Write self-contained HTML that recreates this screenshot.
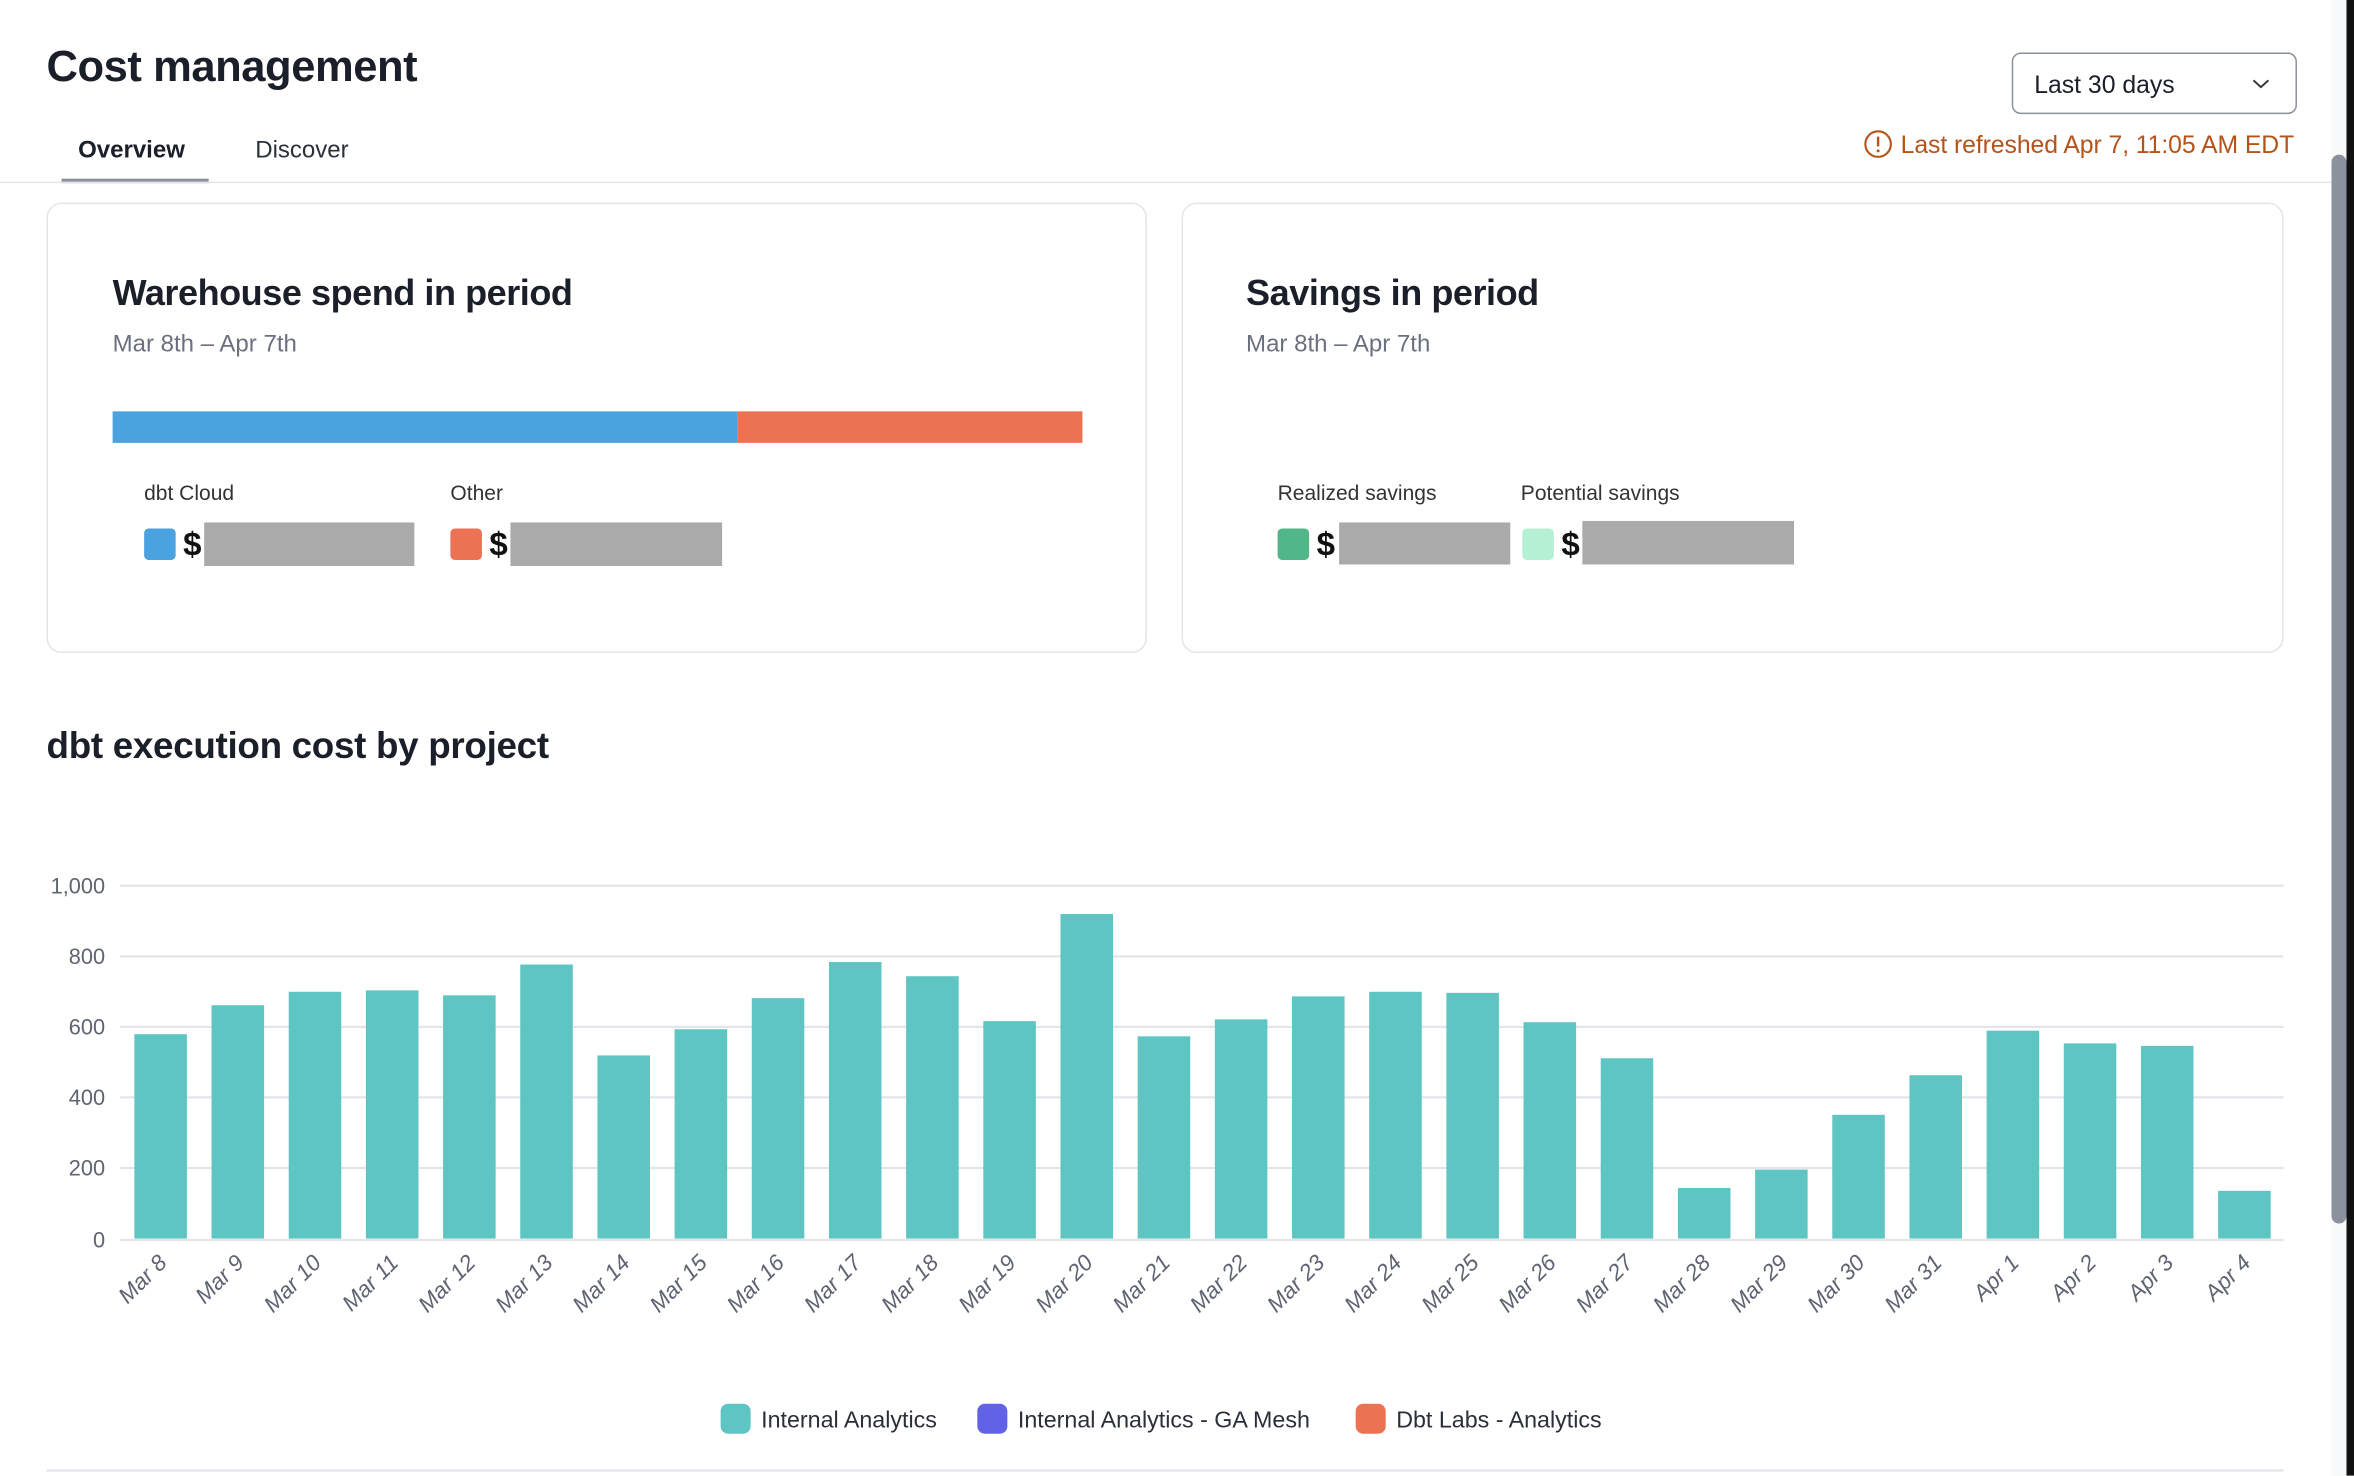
<!DOCTYPE html>
<html><head><meta charset="utf-8"><style>
html,body{margin:0;padding:0;background:#fff;width:2354px;height:1476px;overflow:hidden}
#w{position:absolute;left:0;top:0;width:1568px;height:983px;transform:scale(1.50128);transform-origin:0 0;font-family:"Liberation Sans",sans-serif;color:#1b1f2a}
.a{position:absolute;white-space:nowrap}
.card{position:absolute;border:1.5px solid #e3e4ea;border-radius:10px;background:#fff}
.sw{position:absolute;width:21px;height:21px;border-radius:3px}
.gr{position:absolute;background:#aaaaaa}
.dol{position:absolute;font-size:22px;font-weight:bold;color:#111}
</style></head><body><div id="w">
<div class="a" style="left:31px;top:29px;font-size:29px;font-weight:bold;letter-spacing:-0.3px">Cost management</div>
<div class="a" style="left:52px;top:92px;font-size:16px;font-weight:bold">Overview</div>
<div class="a" style="left:170px;top:92px;font-size:16px;color:#2a2f3a">Discover</div>
<div class="a" style="left:41px;top:119px;width:98px;height:3px;background:#8b929e"></div>
<div class="a" style="left:0;top:120.5px;width:1553px;height:1.5px;background:#e4e5ea"></div>
<div class="a" style="left:1340px;top:35px;width:188px;height:39px;border:1.5px solid #8b929e;border-radius:6px"></div>
<div class="a" style="left:1355px;top:48px;font-size:16.5px">Last 30 days</div>
<svg class="a" style="left:1500px;top:52px" width="12" height="8"><path d="M1 1.5 L6 6 L11 1.5" fill="none" stroke="#333" stroke-width="1.3"/></svg>
<svg class="a" style="left:1241px;top:86px" width="20" height="20"><circle cx="10" cy="10" r="8.5" fill="none" stroke="#b4531a" stroke-width="1.4"/><line x1="10" y1="5" x2="10" y2="11.5" stroke="#b4531a" stroke-width="1.6"/><circle cx="10" cy="14.5" r="1" fill="#b4531a"/></svg>
<div class="a" style="left:1266px;top:88px;font-size:16.5px;color:#b4531a;letter-spacing:-0.05px">Last refreshed Apr 7, 11:05 AM EDT</div>

<div class="card" style="left:31px;top:135px;width:731px;height:298px"></div>
<div class="card" style="left:787px;top:135px;width:732px;height:298px"></div>
<div class="a" style="left:75px;top:182px;font-size:24px;font-weight:bold;letter-spacing:-0.3px">Warehouse spend in period</div>
<div class="a" style="left:75px;top:221px;font-size:16px;color:#6b7080">Mar 8th – Apr 7th</div>
<div class="a" style="left:75px;top:274px;width:416px;height:21px;background:#4aa3e0"></div>
<div class="a" style="left:491px;top:274px;width:230px;height:21px;background:#ec7254"></div>
<div class="a" style="left:96px;top:320px;font-size:14px;color:#333">dbt Cloud</div>
<div class="a" style="left:300px;top:320px;font-size:14px;color:#333">Other</div>
<div class="sw" style="left:96px;top:352px;background:#4aa3e0"></div>
<div class="dol" style="left:122px;top:350px">$</div>
<div class="gr" style="left:136px;top:348px;width:140px;height:29px"></div>
<div class="sw" style="left:300px;top:352px;background:#ec7254"></div>
<div class="dol" style="left:326px;top:350px">$</div>
<div class="gr" style="left:340px;top:348px;width:141px;height:29px"></div>

<div class="a" style="left:830px;top:182px;font-size:24px;font-weight:bold;letter-spacing:-0.3px">Savings in period</div>
<div class="a" style="left:830px;top:221px;font-size:16px;color:#6b7080">Mar 8th – Apr 7th</div>
<div class="a" style="left:851px;top:320px;font-size:14px;color:#333">Realized savings</div>
<div class="a" style="left:1013px;top:320px;font-size:14px;color:#333">Potential savings</div>
<div class="sw" style="left:851px;top:352px;background:#52b788"></div>
<div class="dol" style="left:877px;top:350px">$</div>
<div class="gr" style="left:892px;top:348px;width:114px;height:28px"></div>
<div class="sw" style="left:1014px;top:352px;background:#b5f0d4"></div>
<div class="dol" style="left:1040px;top:350px">$</div>
<div class="gr" style="left:1054px;top:347px;width:141px;height:29px"></div>

<div class="a" style="left:31px;top:484px;font-size:24.5px;font-weight:bold;letter-spacing:-0.2px">dbt execution cost by project</div>

<svg class="a" style="left:0;top:0" width="1568" height="983" font-family="Liberation Sans, sans-serif">
<g stroke="#e4e5ea" stroke-width="1.5">
<line x1="80" x2="1521" y1="590" y2="590"/><line x1="80" x2="1521" y1="637" y2="637"/><line x1="80" x2="1521" y1="684" y2="684"/><line x1="80" x2="1521" y1="731" y2="731"/><line x1="80" x2="1521" y1="778" y2="778"/><line x1="80" x2="1521" y1="826" y2="826"/>
</g>
<g font-size="14.5" fill="#5f6472" text-anchor="end">
<text x="70" y="595">1,000</text><text x="70" y="642">800</text><text x="70" y="689">600</text><text x="70" y="736">400</text><text x="70" y="783">200</text><text x="70" y="831">0</text>
</g>
<g id="bars" fill="#5ec5c3"></g>
<g id="labs" font-size="15" fill="#5f6472" text-anchor="end" font-style="italic"></g>
<line x1="31" x2="1521" y1="979.5" y2="979.5" stroke="#e4e5ea" stroke-width="1.5"/>
<rect x="480" y="935" width="20" height="20" rx="5" fill="#5ec5c3"/>
<text x="507" y="951" font-size="15.5" fill="#2b2f3a">Internal Analytics</text>
<rect x="651" y="935" width="20" height="20" rx="5" fill="#6262e6"/>
<text x="678" y="951" font-size="15.5" fill="#2b2f3a">Internal Analytics - GA Mesh</text>
<rect x="903" y="935" width="20" height="20" rx="5" fill="#ec7254"/>
<text x="930" y="951" font-size="15.5" fill="#2b2f3a">Dbt Labs - Analytics</text>
<rect x="1553" y="0" width="11" height="983" fill="#f8f9fb"/>
<rect x="1553" y="103" width="10" height="712" rx="5" fill="#8b929e"/>
<rect x="1563" y="0" width="5" height="983" fill="#111"/>
</svg>
<script>
var v=[578,660,698,702,688,775,518,592,680,782,742,615,918,572,620,685,698,695,612,510,143,195,350,462,588,552,545,135];
var n=["Mar 8","Mar 9","Mar 10","Mar 11","Mar 12","Mar 13","Mar 14","Mar 15","Mar 16","Mar 17","Mar 18","Mar 19","Mar 20","Mar 21","Mar 22","Mar 23","Mar 24","Mar 25","Mar 26","Mar 27","Mar 28","Mar 29","Mar 30","Mar 31","Apr 1","Apr 2","Apr 3","Apr 4"];
var b="",l="",s=(1495-107)/27;
for(var i=0;i<28;i++){var c=107+i*s,h=v[i]*0.2355;
b+='<rect x="'+(c-17.5)+'" y="'+(825-h)+'" width="35" height="'+h+'"/>';
l+='<text transform="translate('+(c+5)+',842) rotate(-45)">'+n[i]+'</text>';}
document.getElementById("bars").innerHTML=b;document.getElementById("labs").innerHTML=l;
</script>
</div></body></html>
